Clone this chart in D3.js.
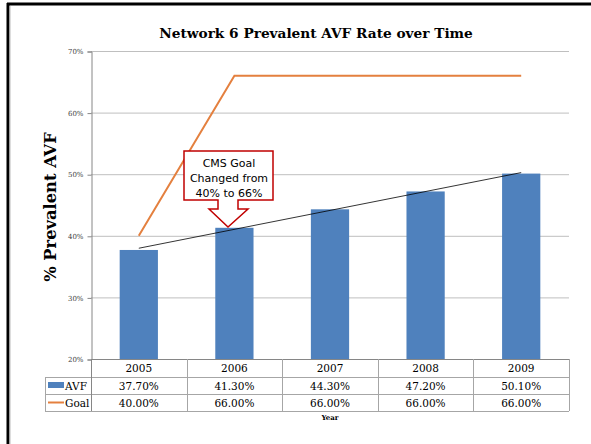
<!DOCTYPE html>
<html><head><meta charset="utf-8">
<script src="https://cdn.jsdelivr.net/npm/d3@7"></script>
<style>
html,body{margin:0;padding:0;background:#fff;}
svg{display:block;}
</style></head>
<body>
<svg id="c" width="591" height="444"></svg>
<script>
const categories = ["2005","2006","2007","2008","2009"];
const avf = [37.7, 41.3, 44.3, 47.2, 50.1];
const goal = [40, 66, 66, 66, 66];
const yTicks = [20, 30, 40, 50, 60, 70];
const seriesNames = ["AVF", "Goal"];
const title = "Network 6 Prevalent AVF Rate over Time";
const yTitle = "% Prevalent AVF";
const xTitle = "Year";
const callout = ["CMS Goal", "Changed from", "40% to 66%"];

const svg = d3.select("#c");
const serif = "'DejaVu Serif', serif";
const L = 91, R = 569, T = 51, B = 359;

// page border
svg.append("line").attr("x1",7).attr("x2",591).attr("y1",4).attr("y2",4).attr("stroke","#000").attr("stroke-width",3);
svg.append("line").attr("x1",8).attr("x2",8).attr("y1",3).attr("y2",444).attr("stroke","#000").attr("stroke-width",3);
svg.append("line").attr("x1",10).attr("x2",10).attr("y1",6).attr("y2",444).attr("stroke","#bbb").attr("stroke-width",1);

const x = d3.scaleBand().domain(categories).range([L, R]).paddingInner(0.6).paddingOuter(0.3);
const xc = d3.scaleBand().domain(categories).range([L, R]);
const y = d3.scaleLinear().domain([20, 70]).range([B, T]);

// gridlines
svg.append("g").selectAll("line").data(yTicks.filter(d=>d>20)).join("line")
  .attr("x1", L).attr("x2", R).attr("y1", d=>y(d)+0.5).attr("y2", d=>y(d)+0.5)
  .attr("stroke", "#bfbfbf").attr("stroke-width", 1);

// y axis
const yAxis = d3.axisLeft(y).tickValues(yTicks).tickFormat(d=>d+"%").tickSize(4).tickPadding(4);
const ga = svg.append("g").attr("transform", `translate(${L+0.5},0.5)`).call(yAxis);
ga.select(".domain").attr("stroke", "#868686");
ga.selectAll(".tick line").attr("stroke", "#868686");
ga.selectAll(".tick text").attr("font-family", serif).attr("font-size", 7).attr("fill", "#404040");

// bars
svg.append("g").selectAll("rect").data(avf).join("rect")
  .attr("x", (d,i)=>x(categories[i])).attr("width", x.bandwidth())
  .attr("y", d=>y(d)).attr("height", d=>B - y(d))
  .attr("fill", "#4f81bd");

// goal line
const line = d3.line().x((d,i)=>xc(categories[i]) + xc.bandwidth()/2).y(d=>y(d));
svg.append("path").datum(goal).attr("d", line).attr("fill","none").attr("stroke","#e4803f").attr("stroke-width",2);

// linear trendline of AVF
const n = avf.length, mx = (n-1)/2, my = d3.mean(avf);
const slope = d3.sum(avf, (v,i)=>(i-mx)*(v-my)) / d3.sum(avf, (v,i)=>(i-mx)*(i-mx));
const icpt = my - slope*mx;
const trend = [icpt, icpt + slope*(n-1)];
svg.append("line")
  .attr("x1", xc(categories[0]) + xc.bandwidth()/2).attr("y1", y(trend[0]))
  .attr("x2", xc(categories[n-1]) + xc.bandwidth()/2).attr("y2", y(trend[1]))
  .attr("stroke", "#000").attr("stroke-width", 0.8);

// x axis line
svg.append("line").attr("x1", L).attr("x2", R).attr("y1", B+0.5).attr("y2", B+0.5).attr("stroke", "#868686");

// data table
const rows = [B, 377, 394, 411];
const tg = svg.append("g");
const gridC = "#a6a6a6";
// horizontals
tg.append("line").attr("x1", 45).attr("x2", R).attr("y1", rows[1]+0.5).attr("y2", rows[1]+0.5).attr("stroke", gridC);
tg.append("line").attr("x1", 45).attr("x2", R).attr("y1", rows[2]+0.5).attr("y2", rows[2]+0.5).attr("stroke", gridC);
tg.append("line").attr("x1", 45).attr("x2", R).attr("y1", rows[3]+0.5).attr("y2", rows[3]+0.5).attr("stroke", gridC);
// verticals
tg.append("line").attr("x1", 45.5).attr("x2", 45.5).attr("y1", rows[1]).attr("y2", rows[3]).attr("stroke", gridC);
const bounds = categories.map(c=>xc(c)).concat([R]);
tg.selectAll("line.v").data(bounds).join("line").attr("class","v")
  .attr("x1", d=>Math.round(d)+0.5).attr("x2", d=>Math.round(d)+0.5).attr("y1", B).attr("y2", rows[3])
  .attr("stroke", (d,i)=> i===0 ? "#868686" : gridC);

const cx = c => xc(c) + xc.bandwidth()/2;
tg.selectAll("text.yr").data(categories).join("text").attr("class","yr")
  .attr("x", cx).attr("y", 372).attr("text-anchor","middle")
  .attr("font-family", serif).attr("font-size", 10.5).attr("fill","#000").text(d=>d);
tg.selectAll("text.av").data(avf).join("text").attr("class","av")
  .attr("x", (d,i)=>cx(categories[i])).attr("y", 390).attr("text-anchor","middle")
  .attr("font-family", serif).attr("font-size", 10.5).attr("fill","#000").text(d=>d.toFixed(2)+"%");
tg.selectAll("text.gl").data(goal).join("text").attr("class","gl")
  .attr("x", (d,i)=>cx(categories[i])).attr("y", 407).attr("text-anchor","middle")
  .attr("font-family", serif).attr("font-size", 10.5).attr("fill","#000").text(d=>d.toFixed(2)+"%");

// legend keys
tg.append("rect").attr("x", 48).attr("y", 382).attr("width", 16).attr("height", 6).attr("fill", "#4f81bd");
tg.append("line").attr("x1", 48).attr("x2", 64).attr("y1", 402.5).attr("y2", 402.5).attr("stroke", "#e4803f").attr("stroke-width", 2);
tg.append("text").attr("x", 65).attr("y", 390).attr("font-family", serif).attr("font-size", 10.5).attr("fill","#000").text(seriesNames[0]);
tg.append("text").attr("x", 65).attr("y", 407).attr("font-family", serif).attr("font-size", 10.5).attr("fill","#000").text(seriesNames[1]);

// titles
svg.append("text").attr("x", 316).attr("y", 38).attr("text-anchor","middle")
  .attr("font-family", serif).attr("font-weight","bold").attr("font-size", 13.7).attr("fill","#000").text(title);
svg.append("text").attr("transform", "translate(56,207) rotate(-90)").attr("text-anchor","middle")
  .attr("font-family", serif).attr("font-weight","bold").attr("font-size", 16.3).attr("fill","#000").text(yTitle);
svg.append("text").attr("x", 330).attr("y", 420).attr("text-anchor","middle")
  .attr("font-family", serif).attr("font-weight","bold").attr("font-size", 7).attr("fill","#000").text(xTitle);

// callout
const co = svg.append("g");
const cpath = "M184,151 H273 V200 H238 V209 H248 L228,227 L209,209 H218 V200 H184 Z";
co.append("path").attr("d", cpath).attr("fill","#fff").attr("stroke","#c00000").attr("stroke-width",1.5);
co.selectAll("text").data(callout).join("text")
  .attr("x", 229).attr("y", (d,i)=>167 + i*15).attr("text-anchor","middle")
  .attr("font-family", "'DejaVu Sans', sans-serif").attr("font-size", 11).attr("fill","#000").text(d=>d);
</script>
</body></html>
